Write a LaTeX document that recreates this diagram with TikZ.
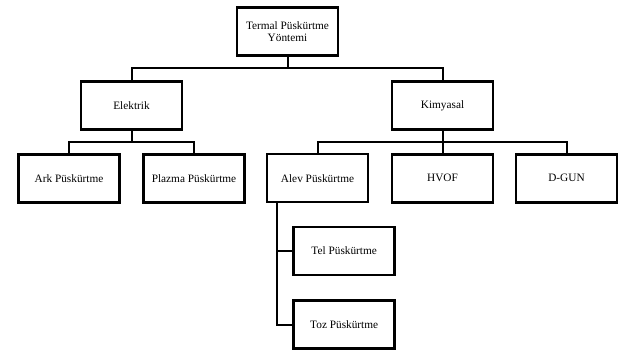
\documentclass[tikz,border=0pt]{standalone}
\usepackage{fontspec}
\setmainfont{Liberation Serif}
\usetikzlibrary{positioning}
\tikzset{
  kutu/.style={draw, line width=2.6pt, fill=white, minimum width=101pt, minimum height=48pt, align=center, font=\fontsize{11.3}{11.8}\selectfont},
  baglanti/.style={line width=2pt}
}

\begin{document}
\begin{tikzpicture}[x=1pt, y=-1pt]
    \useasboundingbox (0,0) rectangle (619,351);

    % first level
    \node[kutu] (termal) at (287.5,31.5) {Termal Püskürtme\\Yöntemi};

    % second level
    \node[kutu] (elektrik) at (131.5,105.3) {Elektrik};
    \node[kutu] (kimyasal) at (442.5,105.3) {Kimyasal};

    % third level
    \node[kutu] (ark) at (69,178.3) {Ark Püskürtme};
    \node[kutu] (plazma) at (194,178.3) {Plazma Püskürtme};
    \node[kutu, line width=2.2pt] (alev) at (317.5,178.3) {Alev Püskürtme};
    \node[kutu] (hvof) at (442.5,178.3) {HVOF};
    \node[kutu] (dgun) at (566.5,178.3) {D-GUN};

    % alev subtypes
    \node[kutu] (tel) at (344.2,251) {Tel Püskürtme};
    \node[kutu] (toz) at (344.2,324.5) {Toz Püskürtme};

    % bus lines
    \coordinate (bus1) at (0,67.8);
    \coordinate (bus2) at (0,142.3);
    \coordinate (alevdal) at (276.7,0);

    \draw[baglanti] (termal.south) |- (bus1 -| elektrik) -- (elektrik.north);
    \draw[baglanti] (termal.south) |- (bus1 -| kimyasal) -- (kimyasal.north);

    \draw[baglanti] (elektrik.south) |- (bus2 -| ark) -- (ark.north);
    \draw[baglanti] (elektrik.south) |- (bus2 -| plazma) -- (plazma.north);

    \draw[baglanti] (kimyasal.south) |- (bus2 -| alev) -- (alev.north);
    \draw[baglanti] (kimyasal.south) -- (hvof.north);
    \draw[baglanti] (kimyasal.south) |- (bus2 -| dgun) -- (dgun.north);

    \draw[baglanti] (alev.south -| alevdal) |- (toz.west);
    \draw[baglanti] (tel.west -| alevdal) -- (tel.west);
\end{tikzpicture}
\end{document}
